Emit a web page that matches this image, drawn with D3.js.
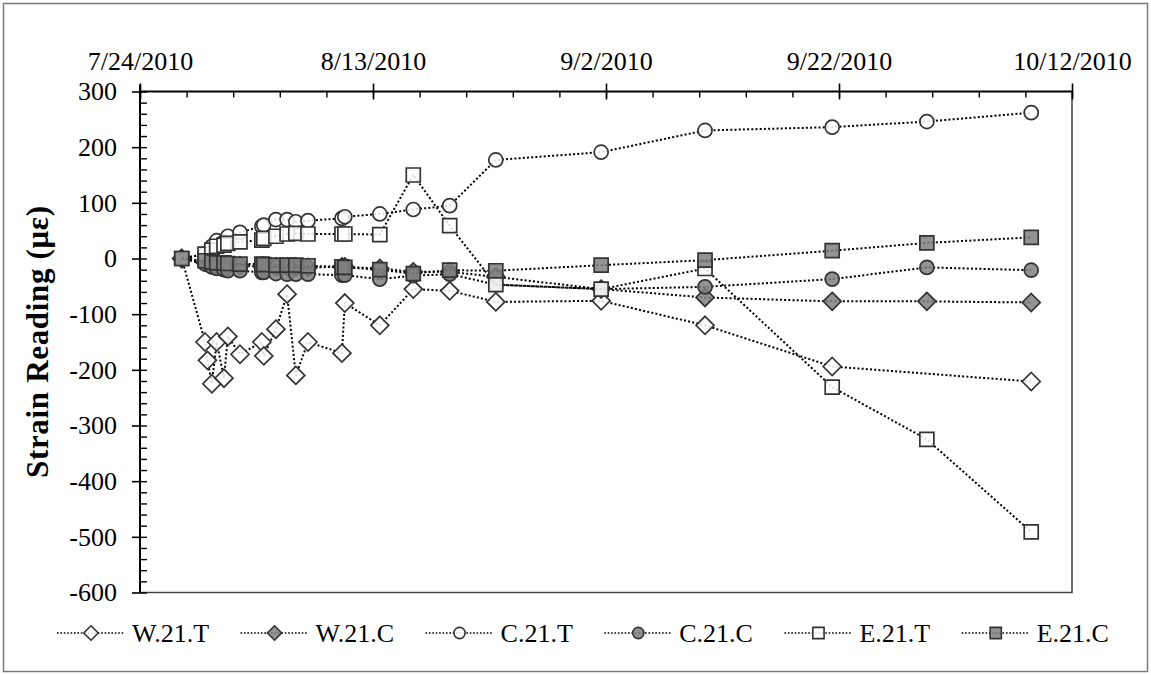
<!DOCTYPE html>
<html>
<head>
<meta charset="utf-8">
<script src="https://cdn.jsdelivr.net/npm/d3@7"></script>
<style>
  html, body { margin: 0; padding: 0; background: #fff; }
  svg { display: block; }
  text { font-family: "Liberation Serif", "Times New Roman", serif; fill: #000; font-weight: normal; }
</style>
</head>
<body>
<svg id="chart" width="1151" height="675"></svg>
<script>
// Reading times (shared by all gauges)
const readingTimes = [
  "2010-07-27 14:00", "2010-07-29 14:00", "2010-07-29 19:00", "2010-07-30 04:00",
  "2010-07-30 14:00", "2010-07-31 05:00", "2010-07-31 13:00", "2010-08-01 14:00",
  "2010-08-03 11:00", "2010-08-03 15:00", "2010-08-04 16:00", "2010-08-05 15:00",
  "2010-08-06 09:00", "2010-08-07 10:00", "2010-08-10 08:00", "2010-08-10 14:00",
  "2010-08-13 14:00", "2010-08-16 11:00", "2010-08-19 14:00", "2010-08-23 13:00",
  "2010-09-01 14:00", "2010-09-10 12:00", "2010-09-21 10:00", "2010-09-29 13:00",
  "2010-10-08 12:00"
];

// Strain readings (microstrain); null = no reading at that time
const w21T = [0, -150, -183, -225, -150, -215, -140, -172, -150, -175, -127, -64,
  -210, -150, -170, -80, -120, -55, -58, -78, -76, -120, -194, null, -221];
const w21C = [0, -7, null, -10, -12, -12, -14, -13, -14, -14, -15, -15,
  -15, -16, -15, -15, -18, -24, -24, -33, -55, -70, -77, -77, -79];
const c21T = [0, 8, null, 22, 32, 30, 40, 47, 58, 60, 70, 70,
  66, 68, 72, 75, 80, 88, 95, 177, 191, 230, 236, 246, 262];
const c21C = [0, -10, null, -15, -18, -20, -22, -22, -25, -25, -27, -28,
  -28, -28, -30, -30, -37, -31, -28, -47, -55, -51, -37, -16, -21];
const e21T = [0, 8, null, 15, 22, 24, 27, 30, 33, 36, 40, 44,
  45, 44, 44, 44, 43, 150, 59, -47, -55, -18, -231, -325, -491];
const e21C = [0, -4, null, -6, -8, -8, -9, -10, -10, -11, -12, -12,
  -12, -13, -15, -16, -20, -27, -21, -22, -12, -3, 14, 28, 38];

const seriesNames = ["W.21.T", "W.21.C", "C.21.T", "C.21.C", "E.21.T", "E.21.C"];
const seriesValues = [w21T, w21C, c21T, c21C, e21T, e21C];
const seriesShapes = ["diamond", "diamond", "circle", "circle", "square", "square"];
const seriesFills = ["#ffffff", "#808080", "#ffffff", "#808080", "#ffffff", "#808080"];

// Axis ticks
const xTickLabels = ["7/24/2010", "8/13/2010", "9/2/2010", "9/22/2010", "10/12/2010"];
const yTickValues = [-600, -500, -400, -300, -200, -100, 0, 100, 200, 300];

const parseTime = d3.timeParse("%Y-%m-%d %H:%M");
const parseDay = d3.timeParse("%m/%d/%Y");
const times = readingTimes.map(parseTime);
const xMajor = xTickLabels.map(parseDay);
const xMinor = d3.timeDay.range(xMajor[0], d3.timeDay.offset(xMajor[xMajor.length - 1], 1), 4);

const svg = d3.select("#chart");
const plotLeft = 140, plotRight = 1072, plotTop = 91.5, plotBottom = 592.5;

const x = d3.scaleTime().domain([xMajor[0], xMajor[xMajor.length - 1]]).range([plotLeft, plotRight]);
const y = d3.scaleLinear().domain([-600, 300]).range([plotBottom, plotTop]);

// Outer chart frame
svg.append("rect")
  .attr("x", 3.5).attr("y", 3.5).attr("width", 1144).attr("height", 668)
  .attr("fill", "none").attr("stroke", "#7a7a7a").attr("stroke-width", 1.5);

// Plot area border (right and bottom)
svg.append("path")
  .attr("d", `M${plotLeft},${plotBottom}H${plotRight}V${plotTop}`)
  .attr("fill", "none").attr("stroke", "#404040").attr("stroke-width", 1.5);

// Top date axis: labels and outward half of major ticks
const xAxisTop = svg.append("g").attr("transform", `translate(0,${plotTop})`)
  .call(d3.axisTop(x).tickValues(xMajor).tickSize(8).tickPadding(13.5)
    .tickFormat(d3.timeFormat("%-m/%-d/%Y")));
xAxisTop.attr("font-family", null);
xAxisTop.select(".domain").attr("stroke", "#000").attr("stroke-width", 2)
  .attr("d", `M${plotLeft},0H${plotRight}`);
xAxisTop.selectAll("text").attr("font-size", 26);
xAxisTop.selectAll("line").attr("stroke-width", 1.6);

// Inner half of major ticks plus minor ticks
const xInner = svg.append("g").attr("transform", `translate(0,${plotTop})`)
  .call(d3.axisBottom(x).tickValues(xMajor).tickSize(8).tickFormat(""));
xInner.select(".domain").remove();
xInner.selectAll("line").attr("stroke-width", 1.6);
const xMinorG = svg.append("g").attr("transform", `translate(0,${plotTop})`)
  .call(d3.axisBottom(x).tickValues(xMinor).tickSize(6).tickFormat(""));
xMinorG.select(".domain").remove();
xMinorG.selectAll("line").attr("stroke-width", 1.4);

// Left value axis (plain hyphen for negatives)
const yAxis = svg.append("g").attr("transform", `translate(${plotLeft},0)`)
  .call(d3.axisLeft(y).tickValues(yTickValues).tickSize(8).tickPadding(15)
    .tickFormat(d => String(d)));
yAxis.attr("font-family", null);
yAxis.select(".domain").attr("stroke-width", 2).attr("d", `M0,${plotTop - 7}V${plotBottom}`);
yAxis.selectAll("text").attr("font-size", 26);
yAxis.selectAll("line").attr("stroke-width", 1.6);
const yInner = svg.append("g").attr("transform", `translate(${plotLeft},0)`)
  .call(d3.axisRight(y).tickValues(d3.range(-600, 301, 20)).tickSize(7).tickFormat(""));
yInner.select(".domain").remove();
yInner.selectAll("line").attr("stroke-width", 1.4);

// Axis title
const title = svg.append("text")
  .attr("transform", `translate(48,${(plotTop + plotBottom) / 2}) rotate(-90)`)
  .attr("text-anchor", "middle")
  .style("font-weight", "bold")
  .attr("font-size", 31)
  .text("Strain Reading (με)");
if (title.node().getComputedTextLength() < 272) {
  title.attr("textLength", 272).attr("lengthAdjust", "spacing");
}

// Marker shapes
function markerPath(shape) {
  if (shape === "circle") return d3.symbol(d3.symbolCircle, Math.PI * 49)();
  if (shape === "square") return d3.symbol(d3.symbolSquare, 196)();
  const h = 9;
  return `M0,${-h}L${h},0L0,${h}L${-h},0Z`;
}

const line = d3.line()
  .x(d => x(d.t)).y(d => y(d.v));

const plot = svg.append("g");
seriesNames.forEach((name, i) => {
  const pts = times.map((t, j) => ({ t, v: seriesValues[i][j] })).filter(d => d.v !== null);
  const g = plot.append("g");
  g.append("path").datum(pts)
    .attr("d", line)
    .attr("fill", "none").attr("stroke", "#000")
    .attr("stroke-width", 2).attr("stroke-dasharray", "2,2.2");
  g.selectAll("path.mk").data(pts).join("path")
    .attr("class", "mk")
    .attr("d", markerPath(seriesShapes[i]))
    .attr("transform", d => `translate(${x(d.t)},${y(d.v)})`)
    .attr("fill", seriesFills[i]).attr("fill-opacity", 0.85)
    .attr("stroke", "#333").attr("stroke-width", 1.7);
});

// Legend
const legend = svg.append("g").attr("transform", "translate(0,633)");
let lx = 57;
seriesNames.forEach((name, i) => {
  const item = legend.append("g").attr("transform", `translate(${lx},0)`);
  item.append("line").attr("x1", 0).attr("x2", 68).attr("y1", 0).attr("y2", 0)
    .attr("stroke", "#000").attr("stroke-width", 1.6).attr("stroke-dasharray", "1.6,1.8");
  item.append("path")
    .attr("d", markerPath(seriesShapes[i]))
    .attr("transform", "translate(34,0) scale(0.8)")
    .attr("fill", seriesFills[i]).attr("fill-opacity", 0.85)
    .attr("stroke", "#333").attr("stroke-width", 2);
  const t = item.append("text").attr("x", 75).attr("y", 9)
    .attr("font-size", 26).text(name);
  lx += 75 + t.node().getComputedTextLength() + 31.5;
});
</script>
</body>
</html>
